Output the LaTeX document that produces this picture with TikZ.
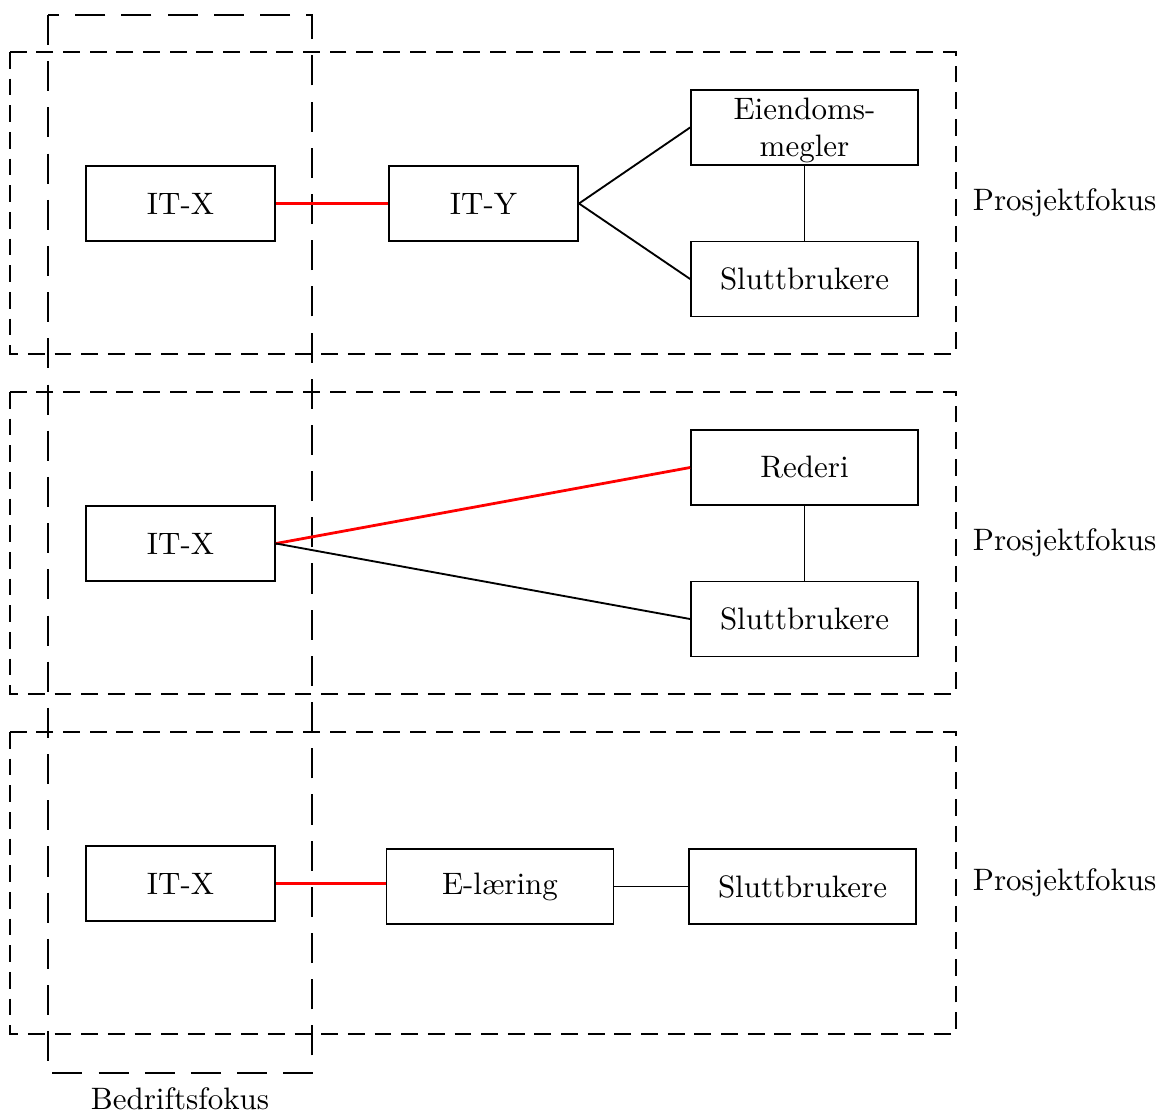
\documentclass[tikz,border=0pt]{standalone}
\begin{document}
\begin{tikzpicture}[x=0.01134cm,y=-0.01134cm,
  boks/.style={draw,line width=0.6pt,minimum width=61pt,minimum height=24.2pt},
  bredboks/.style={boks,minimum width=73.2pt},
  prosjekt/.style={line width=0.6pt,dash pattern=on 5.4pt off 3.2pt},
  bedrift/.style={line width=0.6pt,dash pattern=on 9.7pt off 5.2pt},
  rodlinje/.style={red,line width=0.9pt},
  linje/.style={line width=0.6pt}]
\useasboundingbox (0,0) rectangle (1160,1113);
% rammer
\foreach \y in {52,392,732}
\draw[prosjekt] (10,\y) rectangle (956,\y+302);
\draw[bedrift] (48,15) rectangle (312,1073);
\foreach \y/\n in {203/1,543/2,883/3}
\node[anchor=west] (prosjekt\n) at (962,\y) {Prosjektfokus};
\node (bedrift) at (180,1099) {Bedriftsfokus};
% oeverst
\node[boks] (itx1) at (180.5,203.5) {IT-X};
\node[boks] (ity) at (483.5,203.5) {IT-Y};
\node[bredboks,align=center,inner sep=0pt,text depth=0pt] (megler) at (804.5,127.5) {\baselineskip=12.6pt Eiendoms-\\megler};
\node[bredboks] (slutt1) at (804.5,279) {Sluttbrukere};
\draw[rodlinje] (itx1.east) -- (ity.west);
\draw[linje] (ity.east) -- (megler.west);
\draw[linje] (ity.east) -- (slutt1.west);
\draw[linje] (megler) -- (slutt1);
% midten
\node[boks] (itx2) at (180.5,543.5) {IT-X};
\node[bredboks] (rederi) at (804.5,467.5) {Rederi};
\node[bredboks] (slutt2) at (804.5,619) {Sluttbrukere};
\draw[rodlinje] (itx2.east) -- (rederi.west);
\draw[linje] (itx2.east) -- (slutt2.west);
\draw[linje] (rederi) -- (slutt2);
% nederst
\node[boks] (itx3) at (180.5,883.5) {IT-X};
\node[bredboks] (elaering) at (500,886.5) {E-læring};
\node[bredboks] (slutt3) at (802.5,886.5) {Sluttbrukere};
\draw[rodlinje] (itx3.east) -- (itx3.east -| elaering.west);
\draw[linje] (elaering) -- (slutt3);
\end{tikzpicture}
\end{document}
